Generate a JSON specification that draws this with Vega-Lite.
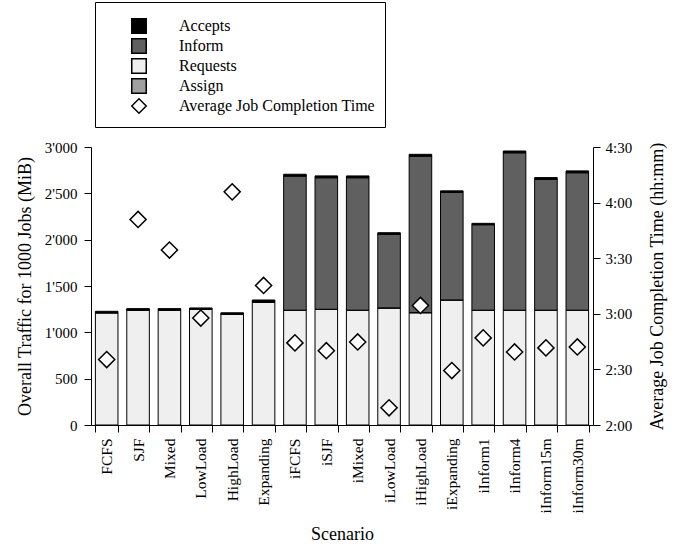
{
  "$schema": "https://vega.github.io/schema/vega-lite/v6.json",
  "autosize": {"type": "none"},
  "width": 502,
  "height": 278,
  "padding": {"left": 91, "top": 147, "right": 95, "bottom": 121},
  "background": "white",
  "config": {
    "font": "Liberation Serif",
    "view": {"stroke": null},
    "axis": {"labelFont": "Liberation Serif", "titleFont": "Liberation Serif", "labelFontSize": 15, "titleFontSize": 18, "titleFontWeight": "normal", "labelColor": "black", "titleColor": "black", "domainColor": "black", "tickColor": "black", "grid": false, "tickSize": 7},
    "legend": {"labelFont": "Liberation Serif", "labelFontSize": 16, "labelColor": "black"}
  },
  "datasets": {
    "traffic": [
      {"Scenario": "FCFS", "Type": "Requests", "Order": 1, "MiB": 1210},
      {"Scenario": "FCFS", "Type": "Assign", "Order": 2, "MiB": 2},
      {"Scenario": "FCFS", "Type": "Inform", "Order": 3, "MiB": 0},
      {"Scenario": "FCFS", "Type": "Accepts", "Order": 4, "MiB": 15},
      {"Scenario": "SJF", "Type": "Requests", "Order": 1, "MiB": 1240},
      {"Scenario": "SJF", "Type": "Assign", "Order": 2, "MiB": 2},
      {"Scenario": "SJF", "Type": "Inform", "Order": 3, "MiB": 0},
      {"Scenario": "SJF", "Type": "Accepts", "Order": 4, "MiB": 14},
      {"Scenario": "Mixed", "Type": "Requests", "Order": 1, "MiB": 1240},
      {"Scenario": "Mixed", "Type": "Assign", "Order": 2, "MiB": 2},
      {"Scenario": "Mixed", "Type": "Inform", "Order": 3, "MiB": 0},
      {"Scenario": "Mixed", "Type": "Accepts", "Order": 4, "MiB": 14},
      {"Scenario": "LowLoad", "Type": "Requests", "Order": 1, "MiB": 1247},
      {"Scenario": "LowLoad", "Type": "Assign", "Order": 2, "MiB": 2},
      {"Scenario": "LowLoad", "Type": "Inform", "Order": 3, "MiB": 0},
      {"Scenario": "LowLoad", "Type": "Accepts", "Order": 4, "MiB": 14},
      {"Scenario": "HighLoad", "Type": "Requests", "Order": 1, "MiB": 1196},
      {"Scenario": "HighLoad", "Type": "Assign", "Order": 2, "MiB": 2},
      {"Scenario": "HighLoad", "Type": "Inform", "Order": 3, "MiB": 0},
      {"Scenario": "HighLoad", "Type": "Accepts", "Order": 4, "MiB": 13},
      {"Scenario": "Expanding", "Type": "Requests", "Order": 1, "MiB": 1325},
      {"Scenario": "Expanding", "Type": "Assign", "Order": 2, "MiB": 2},
      {"Scenario": "Expanding", "Type": "Inform", "Order": 3, "MiB": 0},
      {"Scenario": "Expanding", "Type": "Accepts", "Order": 4, "MiB": 22},
      {"Scenario": "iFCFS", "Type": "Requests", "Order": 1, "MiB": 1237},
      {"Scenario": "iFCFS", "Type": "Assign", "Order": 2, "MiB": 2},
      {"Scenario": "iFCFS", "Type": "Inform", "Order": 3, "MiB": 1447},
      {"Scenario": "iFCFS", "Type": "Accepts", "Order": 4, "MiB": 20},
      {"Scenario": "iSJF", "Type": "Requests", "Order": 1, "MiB": 1247},
      {"Scenario": "iSJF", "Type": "Assign", "Order": 2, "MiB": 2},
      {"Scenario": "iSJF", "Type": "Inform", "Order": 3, "MiB": 1419},
      {"Scenario": "iSJF", "Type": "Accepts", "Order": 4, "MiB": 20},
      {"Scenario": "iMixed", "Type": "Requests", "Order": 1, "MiB": 1237},
      {"Scenario": "iMixed", "Type": "Assign", "Order": 2, "MiB": 2},
      {"Scenario": "iMixed", "Type": "Inform", "Order": 3, "MiB": 1429},
      {"Scenario": "iMixed", "Type": "Accepts", "Order": 4, "MiB": 20},
      {"Scenario": "iLowLoad", "Type": "Requests", "Order": 1, "MiB": 1262},
      {"Scenario": "iLowLoad", "Type": "Assign", "Order": 2, "MiB": 2},
      {"Scenario": "iLowLoad", "Type": "Inform", "Order": 3, "MiB": 793},
      {"Scenario": "iLowLoad", "Type": "Accepts", "Order": 4, "MiB": 18},
      {"Scenario": "iHighLoad", "Type": "Requests", "Order": 1, "MiB": 1211},
      {"Scenario": "iHighLoad", "Type": "Assign", "Order": 2, "MiB": 2},
      {"Scenario": "iHighLoad", "Type": "Inform", "Order": 3, "MiB": 1688},
      {"Scenario": "iHighLoad", "Type": "Accepts", "Order": 4, "MiB": 20},
      {"Scenario": "iExpanding", "Type": "Requests", "Order": 1, "MiB": 1348},
      {"Scenario": "iExpanding", "Type": "Assign", "Order": 2, "MiB": 2},
      {"Scenario": "iExpanding", "Type": "Inform", "Order": 3, "MiB": 1159},
      {"Scenario": "iExpanding", "Type": "Accepts", "Order": 4, "MiB": 18},
      {"Scenario": "iInform1", "Type": "Requests", "Order": 1, "MiB": 1237},
      {"Scenario": "iInform1", "Type": "Assign", "Order": 2, "MiB": 2},
      {"Scenario": "iInform1", "Type": "Inform", "Order": 3, "MiB": 922},
      {"Scenario": "iInform1", "Type": "Accepts", "Order": 4, "MiB": 15},
      {"Scenario": "iInform4", "Type": "Requests", "Order": 1, "MiB": 1237},
      {"Scenario": "iInform4", "Type": "Assign", "Order": 2, "MiB": 2},
      {"Scenario": "iInform4", "Type": "Inform", "Order": 3, "MiB": 1698},
      {"Scenario": "iInform4", "Type": "Accepts", "Order": 4, "MiB": 20},
      {"Scenario": "iInform15m", "Type": "Requests", "Order": 1, "MiB": 1237},
      {"Scenario": "iInform15m", "Type": "Assign", "Order": 2, "MiB": 2},
      {"Scenario": "iInform15m", "Type": "Inform", "Order": 3, "MiB": 1411},
      {"Scenario": "iInform15m", "Type": "Accepts", "Order": 4, "MiB": 20},
      {"Scenario": "iInform30m", "Type": "Requests", "Order": 1, "MiB": 1237},
      {"Scenario": "iInform30m", "Type": "Assign", "Order": 2, "MiB": 2},
      {"Scenario": "iInform30m", "Type": "Inform", "Order": 3, "MiB": 1483},
      {"Scenario": "iInform30m", "Type": "Accepts", "Order": 4, "MiB": 20}
    ],
    "times": [
      {"Scenario": "FCFS", "Minutes": 155.3},
      {"Scenario": "SJF", "Minutes": 230.9},
      {"Scenario": "Mixed", "Minutes": 214.4},
      {"Scenario": "LowLoad", "Minutes": 177.7},
      {"Scenario": "HighLoad", "Minutes": 245.8},
      {"Scenario": "Expanding", "Minutes": 195.3},
      {"Scenario": "iFCFS", "Minutes": 164.3},
      {"Scenario": "iSJF", "Minutes": 160.1},
      {"Scenario": "iMixed", "Minutes": 164.8},
      {"Scenario": "iLowLoad", "Minutes": 129.3},
      {"Scenario": "iHighLoad", "Minutes": 184.5},
      {"Scenario": "iExpanding", "Minutes": 149.4},
      {"Scenario": "iInform1", "Minutes": 167.0},
      {"Scenario": "iInform4", "Minutes": 159.4},
      {"Scenario": "iInform15m", "Minutes": 161.6},
      {"Scenario": "iInform30m", "Minutes": 162.1}
    ]
  },
  "encoding": {
    "x": {
      "field": "Scenario", "type": "nominal", "sort": null,
      "scale": {"paddingInner": 0.28, "paddingOuter": 0.14},
      "axis": {"title": "Scenario", "labelAngle": -90, "tickBand": "extent", "labelPadding": 6, "titlePadding": 13, "labelFontSize": 15.5}
    }
  },
  "layer": [
    {
      "data": {"name": "traffic"},
      "mark": {"type": "bar", "stroke": "black", "strokeWidth": 1},
      "encoding": {
        "y": {
          "field": "MiB", "type": "quantitative", "stack": "zero",
          "scale": {"domain": [0, 3000]},
          "axis": {"title": "Overall Traffic for 1000 Jobs (MiB)", "values": [0, 500, 1000, 1500, 2000, 2500, 3000], "labelExpr": "replace(format(datum.value, ','), ',', \"'\")", "labelPadding": 7, "titlePadding": 10}
        },
        "order": {"field": "Order", "type": "quantitative"},
        "color": {
          "field": "Type", "type": "nominal",
          "scale": {"domain": ["Accepts", "Inform", "Requests", "Assign", "Average Job Completion Time"], "range": ["#000000", "#606060", "#efefef", "#a0a0a0", "#ffffff"]},
          "legend": {
            "title": " ", "titleFontSize": 3, "titlePadding": 3, "orient": "none", "legendX": 4, "legendY": -145,
            "strokeColor": "black", "padding": 10, "symbolSize": 210, "symbolType": "square",
            "symbolStrokeColor": "black", "symbolStrokeWidth": 1, "symbolOffset": 26, "labelOffset": 32, "rowPadding": -2, "labelLimit": 300,
            "encode": {"symbols": {"update": {"shape": {"signal": "datum.label === 'Average Job Completion Time' ? 'diamond' : 'square'"}, "stroke": {"value": "black"}, "strokeWidth": {"value": 1.5}}}}
          }
        }
      }
    },
    {
      "data": {"name": "times"},
      "mark": {"type": "point", "shape": "diamond", "filled": true, "stroke": "black", "strokeWidth": 1.5, "size": 260, "opacity": 1},
      "encoding": {
        "y": {
          "field": "Minutes", "type": "quantitative",
          "scale": {"domain": [120, 270]},
          "axis": {"orient": "right", "title": "Average Job Completion Time (hh:mm)", "values": [120, 150, 180, 210, 240, 270], "labelExpr": "floor(datum.value / 60) + ':' + (datum.value % 60 < 10 ? '0' : '') + (datum.value % 60)", "labelPadding": 5, "titlePadding": 17, "titleAngle": -90, "titleBaseline": "top"}
        },
        "color": {"datum": "Average Job Completion Time"}
      }
    }
  ],
  "resolve": {"scale": {"y": "independent"}}
}
